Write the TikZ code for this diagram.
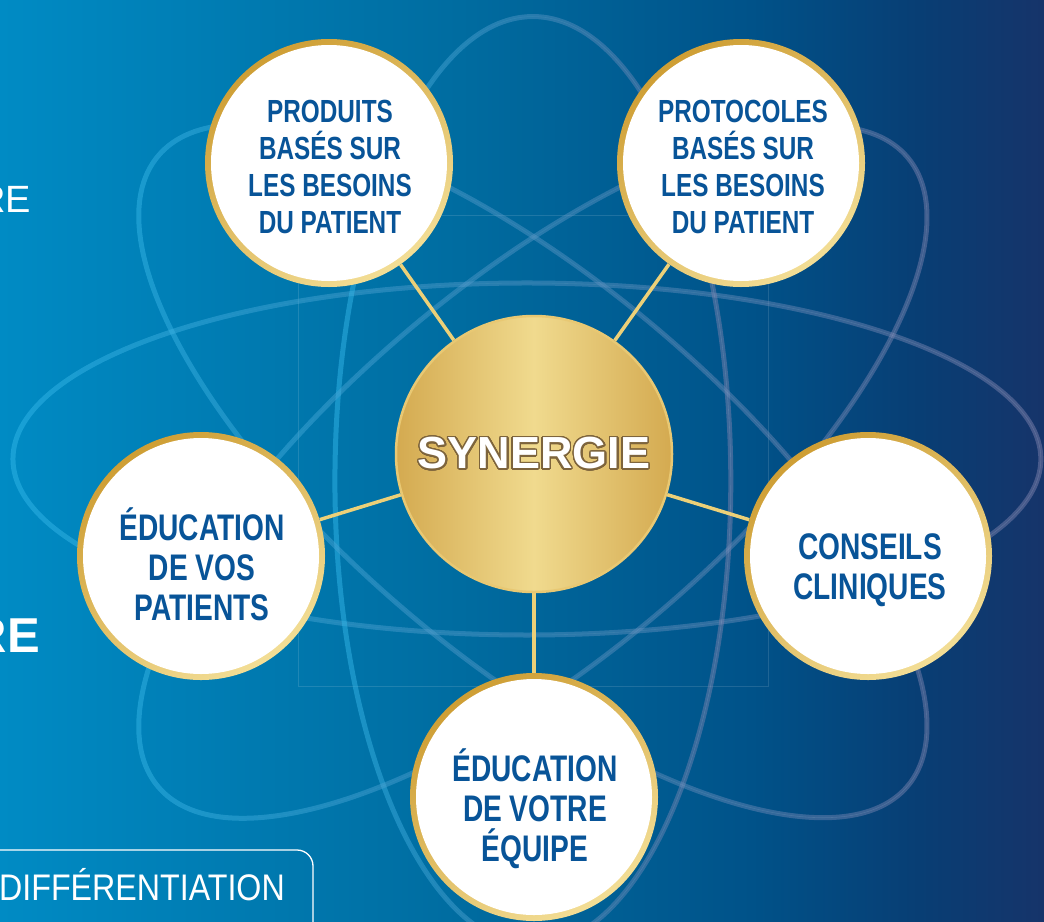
\documentclass[tikz,border=0pt]{standalone}
\usepackage{fontspec}
\setmainfont{Liberation Sans}
\newfontfamily\narrowfont{Liberation Sans}[FakeStretch=0.76]
\newfontfamily\slimfont{Liberation Sans}[FakeStretch=0.87]
\usepackage{contour}
\contourlength{1.4pt}
\contournumber{32}
\usepackage{tikz}
\usetikzlibrary{calc,fadings}

\definecolor{bgA}{RGB}{0,139,196}
\definecolor{bgB}{RGB}{0,108,160}
\definecolor{bgC}{RGB}{0,82,137}
\definecolor{bgD}{RGB}{8,62,116}
\definecolor{bgE}{RGB}{22,52,106}
\definecolor{orbitcyan}{RGB}{50,185,235}
\definecolor{orbitslate}{RGB}{125,128,172}
\definecolor{ringdark}{RGB}{206,158,52}
\definecolor{ringlight}{RGB}{243,222,150}
\definecolor{coregold}{RGB}{212,170,80}
\definecolor{corelight}{RGB}{240,218,142}
\definecolor{corerim}{RGB}{232,200,115}
\definecolor{linkgold}{RGB}{236,208,120}
\definecolor{textblue}{RGB}{8,84,152}
\definecolor{contourbrown}{RGB}{125,100,60}

\pgfdeclarehorizontalshading{ocean}{100bp}{color(0bp)=(bgA); color(25bp)=(bgA); color(47bp)=(bgB); color(61bp)=(bgC); color(69bp)=(bgD); color(75bp)=(bgE); color(100bp)=(bgE)}

\tikzfading[name=fade to east, left color=transparent!0, right color=transparent!100]
\tikzfading[name=fade to west, left color=transparent!100, right color=transparent!0]

\pgfdeclarelayer{back}
\pgfdeclarelayer{links}
\pgfsetlayers{back,links,main}

\tikzset{
  orbit/.style={draw=orbitslate, draw opacity=0.5, line width=5pt, path fading=fade to west,
    preaction={draw=orbitcyan, draw opacity=0.5, line width=5pt, path fading=fade to east},
    postaction={draw=white, draw opacity=0.12, line width=0.6pt, path fading=none}},
  link/.style={draw=linkgold, line width=3.5pt},
  bubble/.style={circle, minimum size=248pt, inner sep=0pt,
    top color=ringdark, bottom color=ringlight, shading angle=35,
    path picture={\fill[white] (path picture bounding box.center) circle[radius=118pt];}},
  core/.style={circle, minimum size=276pt, inner sep=0pt,
    left color=coregold, right color=coregold, middle color=corelight,
    draw=corerim, line width=2.5pt, text=white,
    font=\bfseries\fontsize{45}{50}\selectfont},
  caption/.style={align=center, inner sep=0pt, text=textblue,
    font=\narrowfont\bfseries\fontsize{32}{37}\selectfont},
  bigcaption/.style={caption, font=\narrowfont\bfseries\fontsize{37}{40}\selectfont}
}

\begin{document}
\begin{tikzpicture}[x=1pt,y=-1pt]
  \useasboundingbox (0,0) rectangle (1044,921);

  \begin{pgfonlayer}{back}
    % sky
    \shade[shading=ocean] (0,0) rectangle (1044,921);
    % faint square behind the core
    \draw[white, opacity=0.12, line width=0.8pt] (298,215) rectangle (768,686);
    % orbits
    \draw[orbit] (529,459) ellipse [x radius=515, y radius=176];
    \draw[orbit] (533,480) ellipse [x radius=198, y radius=465];
    \draw[orbit, rotate around={-40:(534,471)}] (534,471) ellipse [x radius=490, y radius=189];
    \draw[orbit, rotate around={40:(534,471)}] (534,471) ellipse [x radius=490, y radius=189];
    % cut words on the left margin
    \node[anchor=base east, inner sep=0pt, text=white, font=\fontsize{38}{40}\selectfont] (word-top) at (31,212) {RE};
    \node[anchor=base east, inner sep=0pt, text=white, font=\bfseries\fontsize{49}{52}\selectfont] (word-bold) at (40,652) {RE};
    \draw[white, line width=1.3pt, rounded corners=16pt] (-30,850) rectangle (313,950);
    \node[anchor=base west, inner sep=0pt, text=white, font=\slimfont\fontsize{37}{40}\selectfont] (word-box) at (-1,900) {DIFFÉRENTIATION};
  \end{pgfonlayer}

  % core and satellites
  \node[core] (synergie) at (534,454) {\contour{contourbrown}{SYNERGIE}};
  \node[bubble] (produits) at (329,163) {};
  \node[bubble] (protocoles) at (741,163) {};
  \node[bubble] (patients) at (201,556) {};
  \node[bubble] (conseils) at (868,556) {};
  \node[bubble] (equipe) at (534,797) {};

  \node[caption] (produits-txt) at (330,166.5) {PRODUITS\\BASÉS SUR\\LES BESOINS\\DU PATIENT};
  \node[caption] (protocoles-txt) at (743,166.5) {PROTOCOLES\\BASÉS SUR\\LES BESOINS\\DU PATIENT};
  \node[bigcaption] (patients-txt) at (202,564) {ÉDUCATION\\DE VOS\\PATIENTS};
  \node[bigcaption] (conseils-txt) at (870,570.5) {CONSEILS\\CLINIQUES};
  \node[bigcaption] (equipe-txt) at (535,808.5) {ÉDUCATION\\DE VOTRE\\ÉQUIPE};

  \begin{pgfonlayer}{links}
    \foreach \n in {produits,protocoles,patients,conseils,equipe}
      \draw[link] (synergie) -- (\n);
  \end{pgfonlayer}
\end{tikzpicture}
\end{document}
